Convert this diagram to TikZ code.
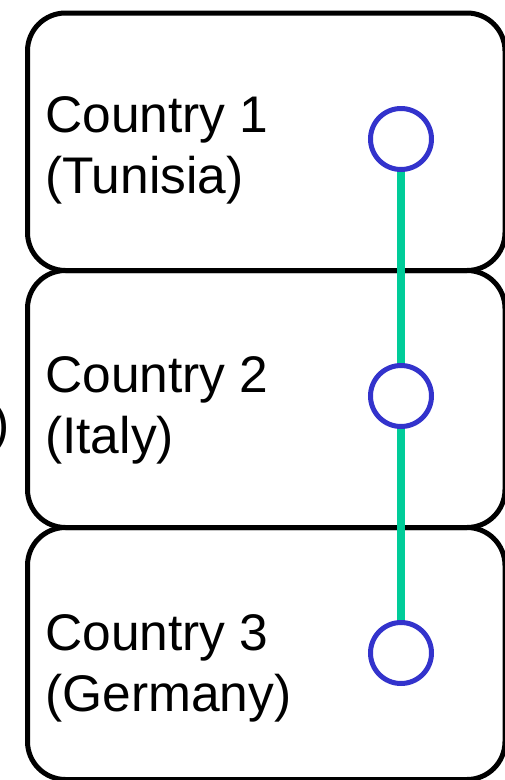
\documentclass[tikz,border=0pt]{standalone}
\usepackage{fontspec}
\setmainfont{Liberation Sans}
\definecolor{ringblue}{RGB}{51,51,204}
\definecolor{linkgreen}{RGB}{0,204,153}
\begin{document}
\begin{tikzpicture}[x=1pt,y=-1pt,
  panel/.style={draw=black, line width=5pt, rounded corners=38pt, rectangle,
    inner sep=0pt, anchor=north west, minimum width=477.5pt},
  label/.style={anchor=base west, inner sep=0pt, align=left,
    font=\fontsize{51.5}{61}\selectfont},
  ring/.style={circle, draw=ringblue, line width=5pt, fill=white,
    minimum size=61pt, inner sep=0pt},
  link/.style={draw=linkgreen, line width=7.5pt}]
  \useasboundingbox (0,0) rectangle (505,780);

  % stacked country panels
  \node[panel, minimum height=257.5pt] (box1) at (25,10.5) {};
  \node[panel, minimum height=257pt]   (box2) at (25,268) {};
  \node[panel, minimum height=252pt]   (box3) at (25,525) {};

  % panel labels (base anchor sits on the last line)
  \node[label] (lab1) at (45,193) {Country 1\\(Tunisia)};
  \node[label] (lab2) at (45,453) {Country 2\\(Italy)};
  \node[label] (lab3) at (45,711) {Country 3\\(Germany)};

  % tail of a label running in from the left
  \node[label] (stray) at (-8,441) {)};

  % route through the three countries
  \coordinate (p1) at (401,139);
  \coordinate (p2) at (401,396);
  \coordinate (p3) at (401,653);
  \draw[link] (p1) -- (p3);
  \node[ring] (c1) at (p1) {};
  \node[ring] (c2) at (p2) {};
  \node[ring] (c3) at (p3) {};
\end{tikzpicture}
\end{document}
